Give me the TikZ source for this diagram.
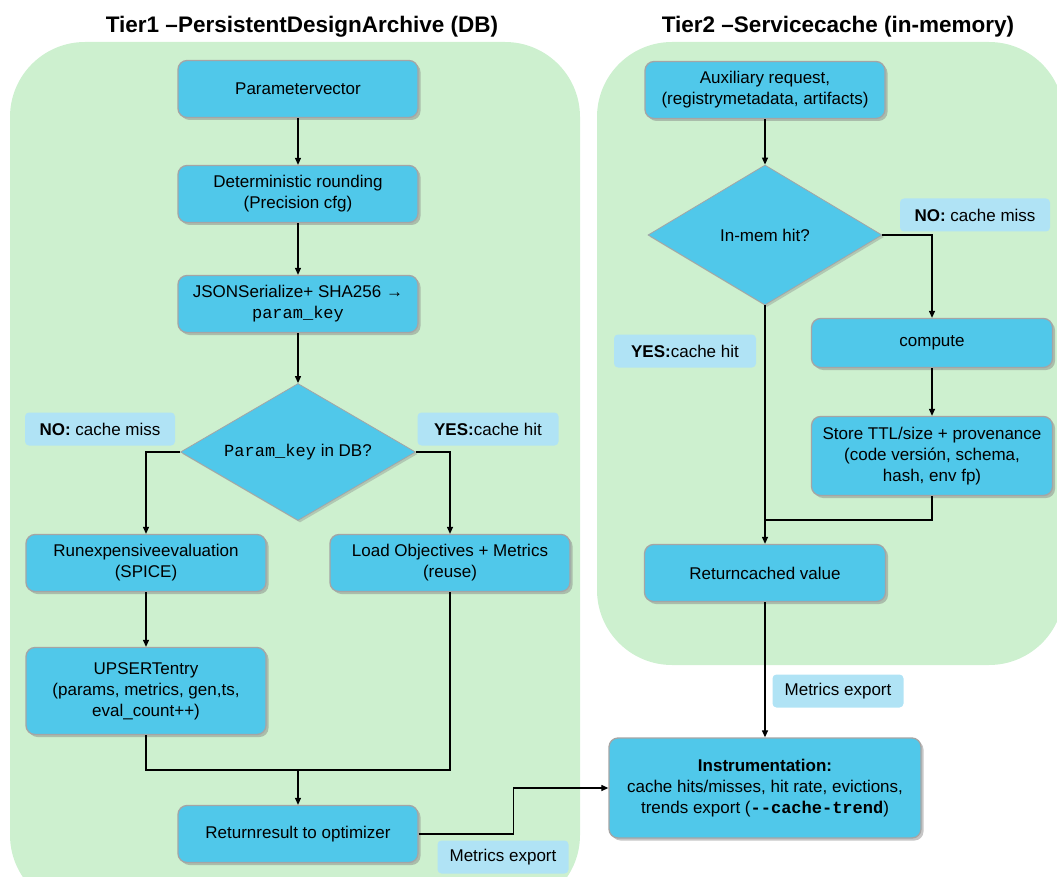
\documentclass[tikz,border=0pt]{standalone}
\usepackage{fontspec}
\setmainfont{Liberation Sans}
\setmonofont{Liberation Mono}
\usetikzlibrary{arrows.meta,shapes.geometric,positioning,shadows}
\definecolor{panelgreen}{RGB}{205,240,207}
\definecolor{boxblue}{RGB}{80,200,234}
\definecolor{tagblue}{RGB}{176,227,245}
\definecolor{boxedge}{RGB}{165,165,165}

\begin{document}
\begin{tikzpicture}[x=1pt, y=-1pt,
    box/.style={draw=boxedge, line width=1.3pt, fill=boxblue, rounded corners=9pt, minimum width=240pt, minimum height=57pt, align=center, font=\fontsize{17}{21}\selectfont, drop shadow={shadow xshift=2.5pt, shadow yshift=-2.5pt, fill=black!50, opacity=.45}},
    dec/.style={diamond, draw=boxedge, line width=.8pt, fill=boxblue, aspect=1.7, inner sep=1pt, font=\fontsize{17}{21}\selectfont, drop shadow={shadow xshift=2pt, shadow yshift=-2pt, fill=black!50, opacity=.35}},
    tag/.style={fill=tagblue, rounded corners=4pt, minimum height=33pt, inner xsep=6pt, font=\fontsize{17}{21}\selectfont},
    panel/.style={fill=panelgreen, rounded corners=75pt},
    ttl/.style={font=\fontsize{22.5}{26}\selectfont\bfseries},
    arr/.style={-{Triangle[length=7pt,width=6pt]}, line width=1.2pt},
    wire/.style={line width=1.2pt}
]
\useasboundingbox (0,0) rectangle (1057,877);
\begin{scope}
\clip (0,0) rectangle (1057,877);
\fill[panel] (10,42) rectangle (580,910);
\fill[panel] (597,42) rectangle (1064,665);
\end{scope}

\node[ttl] (t1) at (302,27) {Tier1 –PersistentDesignArchive (DB)};
\node[ttl] (t2) at (838,27) {Tier2 –Servicecache (in-memory)};

\node[box] (param) at (298,89) {Parametervector};
\node[box] (det) at (298,194) {Deterministic rounding\\(Precision cfg)};
\node[box] (json) at (298,304) {JSONSerialize+ SHA256 →\\\texttt{param\_key}};
\node[dec, minimum width=235pt, minimum height=137pt] (dbq) at (298,452) {\texttt{Param\_key} in DB?};
\node[tag, minimum width=150pt] (no1) at (100,429) {\textbf{NO:} cache miss};
\node[tag, minimum width=141pt] (yes1) at (488,429) {\textbf{YES:}cache hit};
\node[box] (run) at (146,563) {Runexpensiveevaluation\\(SPICE)};
\node[box] (load) at (450,563) {Load Objectives + Metrics\\(reuse)};
\node[box, minimum height=87pt] (upsert) at (146,691) {UPSERTentry\\(params, metrics, gen,ts,\\eval\_count++)};
\coordinate (mergeL) at (298,770);
\node[box] (ret) at (298,834) {Returnresult to optimizer};
\node[tag, minimum width=131pt] (met1) at (503,857) {Metrics export};

\node[box] (aux) at (765,90) {Auxiliary request,\\(registrymetadata, artifacts)};
\node[dec, minimum width=234pt, minimum height=140pt] (memq) at (765,235) {In-mem hit?};
\node[tag, minimum width=150pt] (no2) at (975,215) {\textbf{NO:} cache miss};
\node[box, minimum width=241pt, minimum height=49pt] (compute) at (932,343) {compute};
\node[tag, minimum width=142pt] (yes2) at (685,351) {\textbf{YES:}cache hit};
\node[box, minimum width=241pt, minimum height=79pt] (store) at (932,456) {Store TTL/size + provenance\\(code versión, schema,\\hash, env fp)};
\coordinate (mergeR) at (765,520);
\node[box, minimum width=241pt] (cached) at (765,573) {Returncached value};
\node[tag, minimum width=131pt] (met2) at (838,691) {Metrics export};
\node[box, minimum width=312pt, minimum height=100pt] (instr) at (765,788) {\textbf{Instrumentation:}\\cache hits/misses, hit rate, evictions,\\trends export (\texttt{\textbf{-{}-cache-trend}})};

\draw[arr] (param) -- (det);
\draw[arr] (det) -- (json);
\draw[arr] (json) -- (dbq);
\draw[arr] (dbq.west) -| (run.north);
\draw[arr] (dbq.east) -| (load.north);
\draw[arr] (run) -- (upsert);
\draw[wire] (upsert.south) |- (mergeL);
\draw[wire] (load.south) |- (mergeL);
\draw[arr] (mergeL) -- (ret.north);
\draw[arr] (ret.east) -- ++(95,0) |- (instr.west);

\draw[arr] (aux) -- (memq);
\draw[arr] (memq.east) -| (compute.north);
\draw[arr] (compute) -- (store);
\draw[wire] (store.south) |- (mergeR);
\draw[arr] (memq.south) -- (cached.north);
\draw[arr] (cached) -- (instr);
\end{tikzpicture}
\end{document}
